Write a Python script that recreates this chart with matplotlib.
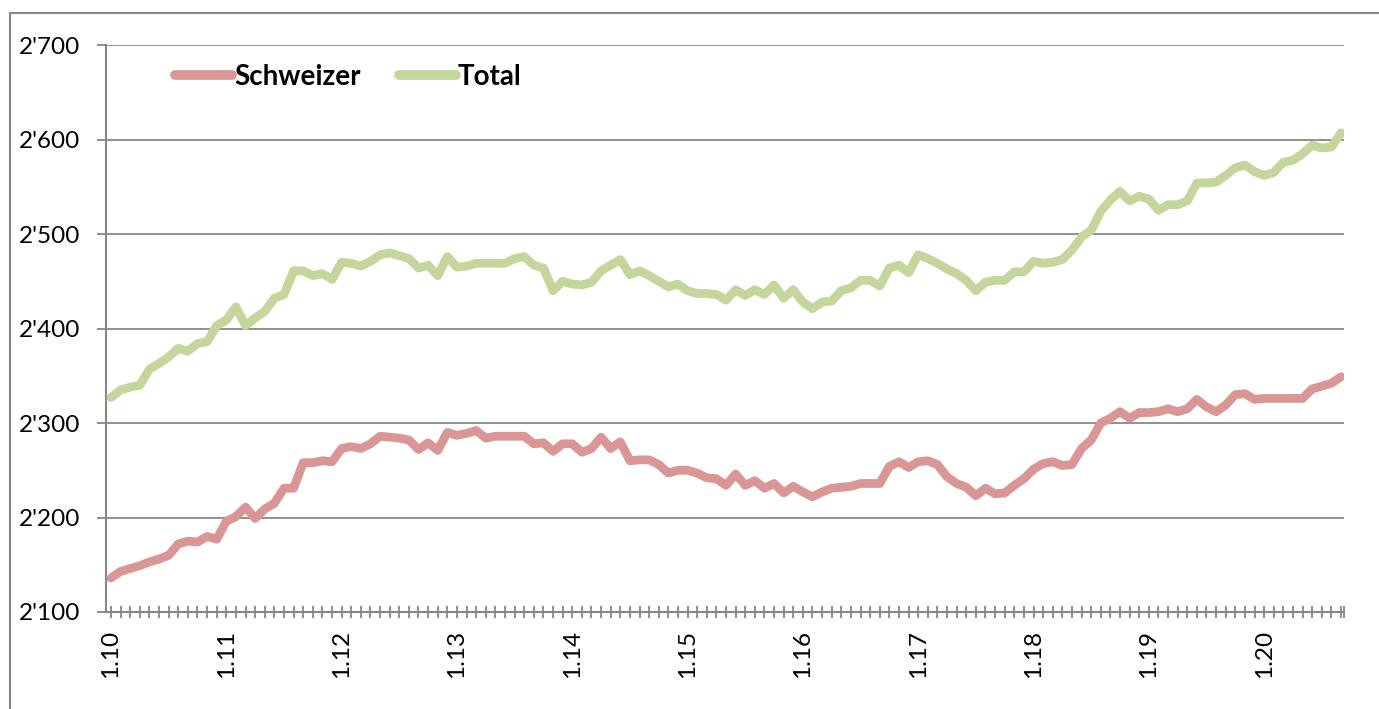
import matplotlib
matplotlib.use("Agg")
import matplotlib.pyplot as plt
from matplotlib.patches import Rectangle
from matplotlib.ticker import FuncFormatter

# ---------------- data (monthly, Jan 2010 .. Sep 2020) ----------------
schweizer = [2136, 2143, 2146, 2149, 2153, 2156, 2160, 2172, 2175, 2174, 2180, 2177,
             2196, 2201, 2211, 2199, 2209, 2215, 2231, 2231, 2258, 2258, 2260, 2259,
             2273, 2275, 2273, 2278, 2286, 2285, 2284, 2282, 2272, 2279, 2271, 2290,
             2287, 2289, 2292, 2284, 2286, 2286, 2286, 2286, 2278, 2279, 2270, 2278,
             2278, 2269, 2273, 2285, 2273, 2280, 2260, 2261, 2261, 2256, 2247, 2250,
             2250, 2247, 2242, 2241, 2234, 2246, 2234, 2239, 2231, 2236, 2226, 2233,
             2227, 2222, 2227, 2231, 2232, 2233, 2236, 2236, 2236, 2254, 2259, 2253,
             2259, 2260, 2256, 2243, 2236, 2232, 2223, 2231, 2225, 2226, 2234, 2241,
             2251, 2257, 2259, 2255, 2256, 2273, 2282, 2300, 2305, 2312, 2305, 2311,
             2311, 2312, 2315, 2312, 2315, 2325, 2317, 2312, 2319, 2330, 2331, 2325,
             2326, 2326, 2326, 2326, 2326, 2336, 2339, 2342, 2349]
total = [2327, 2335, 2338, 2340, 2357, 2363, 2370, 2379, 2376, 2384, 2386, 2403,
         2409, 2423, 2403, 2411, 2418, 2432, 2436, 2461, 2461, 2456, 2458, 2452,
         2470, 2469, 2466, 2471, 2478, 2480, 2477, 2474, 2464, 2467, 2456, 2476,
         2465, 2466, 2469, 2469, 2469, 2469, 2474, 2476, 2467, 2464, 2440, 2450,
         2447, 2446, 2449, 2461, 2467, 2473, 2457, 2461, 2456, 2450, 2444, 2447,
         2440, 2437, 2437, 2436, 2430, 2441, 2435, 2441, 2436, 2446, 2432, 2441,
         2428, 2421, 2428, 2429, 2440, 2443, 2451, 2451, 2445, 2464, 2467, 2459,
         2478, 2474, 2469, 2463, 2458, 2451, 2440, 2449, 2451, 2451, 2460, 2460,
         2471, 2469, 2470, 2473, 2483, 2497, 2504, 2524, 2536, 2545, 2535, 2540,
         2537, 2525, 2531, 2531, 2535, 2554, 2554, 2555, 2562, 2570, 2573, 2566,
         2562, 2565, 2576, 2578, 2585, 2594, 2591, 2592, 2607]
year_labels = ["1.10", "1.11", "1.12", "1.13", "1.14", "1.15",
               "1.16", "1.17", "1.18", "1.19", "1.20"]
y_ticks = [2100, 2200, 2300, 2400, 2500, 2600, 2700]
series_names = ["Schweizer", "Total"]

# ---------------- styling ----------------
W, H = 1379, 709
FONT = "Lato"
GRAY = "#878787"
C_RED = "#D99694"
C_GREEN = "#C3D69B"

fig = plt.figure(figsize=(W / 100, H / 100), dpi=100)
fig.patch.set_facecolor("white")

# outer chart-area border
fig.patches.append(Rectangle((10 / W, -0.05), 1.2, 1.05 - 13 / H,
                             transform=fig.transFigure, fill=False,
                             edgecolor=GRAY, linewidth=1.5, zorder=0))

left, right, top, bottom = 106, 1344, 45, 612
ax = fig.add_axes([left / W, 1 - bottom / H, (right - left) / W, (bottom - top) / H])

n = len(total)
x = list(range(n))
ax.plot(x, schweizer, color=C_RED, lw=6.3, solid_capstyle="round",
        solid_joinstyle="round", label=series_names[0], zorder=3)
ax.plot(x, total, color=C_GREEN, lw=6.3, solid_capstyle="round",
        solid_joinstyle="round", label=series_names[1], zorder=3)

step = 9.61
ax.set_xlim(-5 / step, (n - 1) + 3 / step)
ax.set_ylim(2100, 2700)

# y axis
ax.set_yticks(y_ticks)
ax.yaxis.set_major_formatter(FuncFormatter(lambda v, p: f"{int(v):,}".replace(",", "'")))
ax.grid(axis="y", color=GRAY, linewidth=1.3, zorder=1)
ax.tick_params(axis="y", direction="out", length=6.5, width=1.3, color=GRAY,
               pad=12, labelsize=17.5, labelcolor="black")

# x axis: a tick every month, label every January
ax.set_xticks(x + [(n - 1) + 3 / step])
labels = []
for i in range(n):
    labels.append(year_labels[i // 12] if i % 12 == 0 else "")
labels.append("")
ax.set_xticklabels(labels, rotation=90)
ax.tick_params(axis="x", direction="inout", length=8, width=1.3, color=GRAY,
               pad=9, labelsize=17.5, labelcolor="black")

for lbl in ax.get_xticklabels() + ax.get_yticklabels():
    lbl.set_fontfamily(FONT)

for s in ["top", "right"]:
    ax.spines[s].set_visible(False)
for s in ["left", "bottom"]:
    ax.spines[s].set_color(GRAY)
    ax.spines[s].set_linewidth(1.5)
    ax.spines[s].set_zorder(2)

leg = ax.legend(loc="center left", bbox_to_anchor=(175 / W, 1 - 77 / H),
                bbox_transform=fig.transFigure, ncol=2, frameon=False,
                borderpad=0, borderaxespad=0, handlelength=2.05,
                handletextpad=0.08, columnspacing=1.37,
                prop={"family": FONT, "weight": "bold", "size": 20})
for h in leg.get_lines():
    h.set_linewidth(7)
    h.set_solid_capstyle("round")

fig.savefig("out.png", dpi=100)
